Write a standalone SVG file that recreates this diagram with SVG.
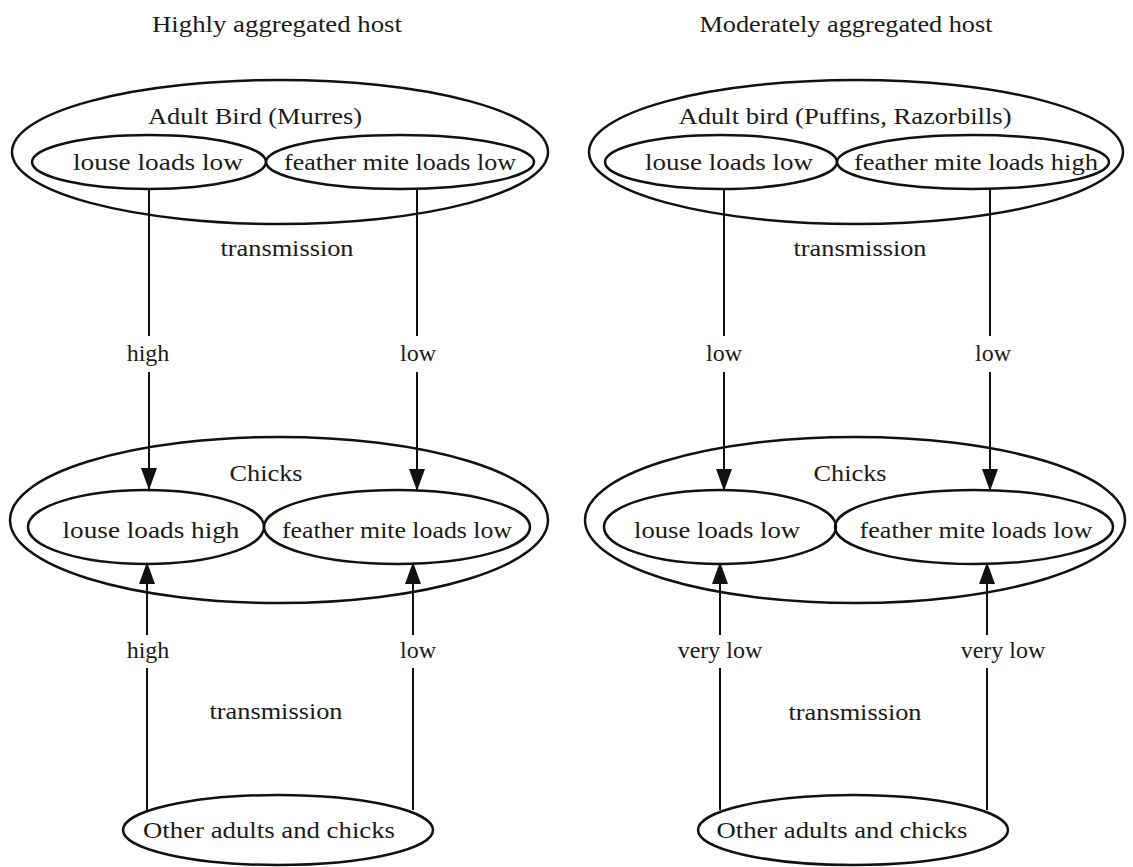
<svg xmlns="http://www.w3.org/2000/svg" width="1133" height="867" viewBox="0 0 1133 867">
<defs>
<style>
.e{fill:none;stroke:#111;stroke-width:2.5}
.t{font-family:"Liberation Serif","Times New Roman",serif;font-size:24px;fill:#1a1a1a;text-anchor:middle}
.c{stroke:#111;stroke-width:2;fill:none}
</style>
<marker id="ah" markerWidth="22" markerHeight="16" refX="21" refY="8" orient="auto" markerUnits="userSpaceOnUse" viewBox="0 0 22 16">
<path d="M0,0 L22,8 L0,16 Z" fill="#111"/>
</marker>
</defs>
<rect width="1133" height="867" fill="#fff"/>

<text class="t" x="277" y="32" textLength="250" lengthAdjust="spacingAndGlyphs">Highly aggregated host</text>
<text class="t" x="846" y="32" textLength="293" lengthAdjust="spacingAndGlyphs">Moderately aggregated host</text>

<g id="adult-left">
<ellipse class="e" cx="280" cy="152" rx="268" ry="72"/>
<text class="t" x="255" y="124" textLength="214" lengthAdjust="spacingAndGlyphs">Adult Bird (Murres)</text>
</g>
<g id="adult-left-louse">
<ellipse class="e" cx="149" cy="162" rx="117" ry="27"/>
<text class="t" x="158" y="170" textLength="170" lengthAdjust="spacingAndGlyphs">louse loads low</text>
</g>
<g id="adult-left-mite">
<ellipse class="e" cx="400" cy="162" rx="134" ry="27"/>
<text class="t" x="400" y="170" textLength="232" lengthAdjust="spacingAndGlyphs">feather mite loads low</text>
</g>

<g id="adult-right">
<ellipse class="e" cx="856" cy="152" rx="267" ry="72"/>
<text class="t" x="845" y="124" textLength="333" lengthAdjust="spacingAndGlyphs">Adult bird (Puffins, Razorbills)</text>
</g>
<g id="adult-right-louse">
<ellipse class="e" cx="721" cy="162" rx="116" ry="27"/>
<text class="t" x="729" y="170" textLength="168" lengthAdjust="spacingAndGlyphs">louse loads low</text>
</g>
<g id="adult-right-mite">
<ellipse class="e" cx="973" cy="162" rx="136" ry="27"/>
<text class="t" x="976" y="170" textLength="244" lengthAdjust="spacingAndGlyphs">feather mite loads high</text>
</g>

<g id="chicks-left">
<ellipse class="e" cx="279" cy="520" rx="269" ry="83"/>
<text class="t" x="266" y="481" textLength="73" lengthAdjust="spacingAndGlyphs">Chicks</text>
</g>
<g id="chicks-left-louse">
<ellipse class="e" cx="146" cy="527" rx="118" ry="37"/>
<text class="t" x="151" y="538" textLength="177" lengthAdjust="spacingAndGlyphs">louse loads high</text>
</g>
<g id="chicks-left-mite">
<ellipse class="e" cx="397" cy="527" rx="133" ry="37"/>
<text class="t" x="397" y="538" textLength="230" lengthAdjust="spacingAndGlyphs">feather mite loads low</text>
</g>

<g id="chicks-right">
<ellipse class="e" cx="855" cy="520" rx="270" ry="83"/>
<text class="t" x="850" y="481" textLength="73" lengthAdjust="spacingAndGlyphs">Chicks</text>
</g>
<g id="chicks-right-louse">
<ellipse class="e" cx="720" cy="527" rx="116" ry="37"/>
<text class="t" x="717" y="538" textLength="166" lengthAdjust="spacingAndGlyphs">louse loads low</text>
</g>
<g id="chicks-right-mite">
<ellipse class="e" cx="974" cy="527" rx="139" ry="37"/>
<text class="t" x="976" y="538" textLength="233" lengthAdjust="spacingAndGlyphs">feather mite loads low</text>
</g>

<g id="others-left">
<ellipse class="e" cx="278" cy="830" rx="155" ry="35"/>
<text class="t" x="269" y="838" textLength="252" lengthAdjust="spacingAndGlyphs">Other adults and chicks</text>
</g>
<g id="others-right">
<ellipse class="e" cx="853" cy="830" rx="155" ry="35"/>
<text class="t" x="842" y="838" textLength="251" lengthAdjust="spacingAndGlyphs">Other adults and chicks</text>
</g>

<g id="connectors">
<path class="c" d="M149,189 V336"/>
<path class="c" d="M149,372 V489" marker-end="url(#ah)"/>
<path class="c" d="M417,189 V336"/>
<path class="c" d="M417,372 V490" marker-end="url(#ah)"/>
<path class="c" d="M724,189 V336"/>
<path class="c" d="M724,372 V490" marker-end="url(#ah)"/>
<path class="c" d="M990,189 V336"/>
<path class="c" d="M990,372 V490" marker-end="url(#ah)"/>

<path class="c" d="M147,810 V668"/>
<path class="c" d="M147,635 V563" marker-end="url(#ah)"/>
<path class="c" d="M413,810 V668"/>
<path class="c" d="M413,635 V563" marker-end="url(#ah)"/>
<path class="c" d="M720,810 V668"/>
<path class="c" d="M720,635 V563" marker-end="url(#ah)"/>
<path class="c" d="M987,810 V668"/>
<path class="c" d="M987,635 V563" marker-end="url(#ah)"/>

<text class="t" x="287" y="256" textLength="133" lengthAdjust="spacingAndGlyphs">transmission</text>
<text class="t" x="860" y="256" textLength="133" lengthAdjust="spacingAndGlyphs">transmission</text>
<text class="t" x="148" y="361">high</text>
<text class="t" x="418" y="361">low</text>
<text class="t" x="724" y="361">low</text>
<text class="t" x="993" y="361">low</text>
<text class="t" x="148" y="658">high</text>
<text class="t" x="418" y="658">low</text>
<text class="t" x="720" y="658">very low</text>
<text class="t" x="1003" y="658">very low</text>
<text class="t" x="276" y="719" textLength="133" lengthAdjust="spacingAndGlyphs">transmission</text>
<text class="t" x="855" y="720" textLength="133" lengthAdjust="spacingAndGlyphs">transmission</text>
</g>
</svg>
